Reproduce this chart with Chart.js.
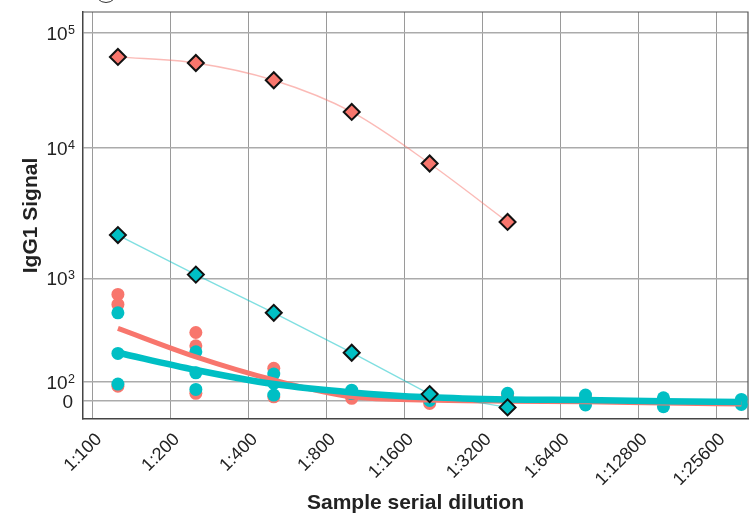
<!DOCTYPE html>
<html>
<head>
<meta charset="utf-8">
<script src="https://cdn.jsdelivr.net/npm/chart.js@4.4.1/dist/chart.umd.min.js"></script>
<style>
  html, body { margin: 0; padding: 0; background: #fff; }
  canvas { display: block; }
</style>
</head>
<body>
<canvas id="chart" width="749" height="519"></canvas>
<script>
// dilution steps (one grid line each); samples sit a bit to the right of each line
const dilutions = ['1:100', '1:200', '1:400', '1:800', '1:1600', '1:3200', '1:6400', '1:12800', '1:25600'];
const sampleOffset = 0.32;

const yTicks = [0, 100, 1000, 10000, 100000];
const yTickExp = [null, '2', '3', '4', '5'];

// reference diamonds
const redDiamonds = [61500, 54500, 38600, 20500, 7600, 2710];
const tealDiamonds = [2150, 1070, 465, 191, 35, -35];

// replicate dots, one list per dilution
const redReps = [
  [700, 561, 77],
  [300, 223, 39],
  [135, 21],
  [48, 13],
  [-14, 5],
  [30, 20],
  [13, 5],
  [7, 0],
  [-5, 0]
];
const tealReps = [
  [465, 188, 88],
  [195, 122, 60],
  [119, 92, 30],
  [56, 38],
  [2],
  [39],
  [30, -22],
  [16, -31],
  [7, -19]
];

// fitted curves
const redFit = [328, 174, 104, 21, 4, -2, -5, -12, -17];
const tealFit = [191, 130, 88, 44, 18, 7, 4, -2, -7];

const RED = '#F8766D';
const TEAL = '#00BFC4';
const FONT = '"Liberation Sans", Arial, sans-serif';

// y axis: linear 0..100, then log decades of uneven length
const axisStops = [0, 100, 1000, 10000, 100000];
const axisSpans = [19, 103.4, 130.6, 115.4];

function axisPos(v) {
  if (v <= axisStops[1]) return v / axisStops[1] * axisSpans[0];
  let p = axisSpans[0];
  for (let i = 1; i < axisStops.length - 1; i++) {
    if (v <= axisStops[i + 1]) return p + Math.log10(v / axisStops[i]) * axisSpans[i];
    p += axisSpans[i];
  }
  const last = axisStops.length - 1;
  return p + Math.log10(v / axisStops[last]) * axisSpans[last - 1];
}

function axisValue(p) {
  if (p <= axisSpans[0]) return p / axisSpans[0] * axisStops[1];
  let acc = axisSpans[0];
  for (let i = 1; i < axisSpans.length; i++) {
    if (p <= acc + axisSpans[i] || i === axisSpans.length - 1) {
      return axisStops[i] * Math.pow(10, (p - acc) / axisSpans[i]);
    }
    acc += axisSpans[i];
  }
}

class BrokenLogScale extends Chart.LinearScale {
  getPixelForValue(value) {
    if (value === null || value === undefined || isNaN(value)) return NaN;
    const lo = axisPos(this.min), hi = axisPos(this.max);
    return this.getPixelForDecimal((axisPos(value) - lo) / (hi - lo));
  }
  getValueForPixel(pixel) {
    const lo = axisPos(this.min), hi = axisPos(this.max);
    return axisValue(lo + this.getDecimalForPixel(pixel) * (hi - lo));
  }
}
BrokenLogScale.id = 'brokenLog';
BrokenLogScale.defaults = Chart.LinearScale.defaults;
Chart.register(BrokenLogScale);

const at = (vals) => vals.map((y, i) => ({ x: i + sampleOffset, y }));
const repPoints = (reps) => reps.flatMap((vals, i) => vals.map(y => ({ x: i + sampleOffset, y })));

const noPad = (s) => { s.paddingTop = 0; s.paddingBottom = 0; s.paddingLeft = 0; s.paddingRight = 0; };

// plot runs to the right edge: chart.js keeps a few px for the rotated last label, take them back
const fullWidthPlugin = {
  id: 'fullWidth',
  afterLayout(chart) {
    const a = chart.chartArea;
    const x = chart.scales.x;
    const right = chart.width - 1;
    if (a.right === right) return;
    a.right = right;
    a.width = right - a.left;
    x.right = right;
    x.width = right - x.left;
    x.configure();
  }
};

// frame on top/right, y labels with raised exponents, and the cut-off circle above the plot
const framePlugin = {
  id: 'frame',
  beforeDatasetsDraw(chart) {
    const { ctx, chartArea: a } = chart;
    ctx.save();
    ctx.strokeStyle = '#555';
    ctx.lineWidth = 1.2;
    ctx.beginPath();
    ctx.moveTo(a.left, a.top);
    ctx.lineTo(a.right, a.top);
    ctx.lineTo(a.right, a.bottom);
    ctx.stroke();
    ctx.restore();
  },
  afterDraw(chart) {
    const ctx = chart.ctx;
    const y = chart.scales.y;
    const right = y.right - 8;
    ctx.save();
    ctx.fillStyle = '#222';
    ctx.textAlign = 'right';
    ctx.textBaseline = 'alphabetic';
    yTicks.forEach((v, i) => {
      const py = y.getPixelForValue(v);
      const exp = yTickExp[i];
      if (exp === null) {
        ctx.font = `19px ${FONT}`;
        ctx.fillText('0', right - 2, py + 7);
        return;
      }
      ctx.font = `12.5px ${FONT}`;
      const ew = ctx.measureText(exp).width;
      ctx.fillText(exp, right, py + 1);
      ctx.font = `19px ${FONT}`;
      ctx.fillText('10', right - ew - 0.5, py + 7);
    });

    ctx.strokeStyle = '#333';
    ctx.lineWidth = 1;
    ctx.beginPath();
    ctx.arc(106, -8.5, 11, 0, Math.PI);
    ctx.stroke();
    ctx.restore();
  }
};

new Chart(document.getElementById('chart'), {
  type: 'line',
  data: {
    datasets: [
      {
        data: repPoints(redReps), showLine: false, order: 7,
        pointRadius: 6.5, pointHoverRadius: 6.5, pointBorderWidth: 0,
        pointBackgroundColor: RED, borderColor: RED
      },
      {
        data: repPoints(tealReps), showLine: false, order: 6,
        pointRadius: 6.5, pointHoverRadius: 6.5, pointBorderWidth: 0,
        pointBackgroundColor: TEAL, borderColor: TEAL
      },
      {
        data: at(redFit), order: 5, borderColor: RED, borderWidth: 5,
        pointRadius: 0, cubicInterpolationMode: 'monotone'
      },
      {
        data: at(tealFit), order: 4, borderColor: TEAL, borderWidth: 6.5,
        pointRadius: 0, cubicInterpolationMode: 'monotone'
      },
      {
        data: at(redDiamonds), order: 1, borderColor: 'rgba(248,118,109,0.5)', borderWidth: 1.4,
        cubicInterpolationMode: 'monotone',
        pointStyle: 'rectRot', pointRadius: 8, pointHoverRadius: 8,
        pointBackgroundColor: RED, pointBorderColor: '#111', pointBorderWidth: 2
      },
      {
        data: at(tealDiamonds), order: 0, borderColor: 'rgba(0,191,196,0.5)', borderWidth: 1.4,
        pointStyle: 'rectRot', pointRadius: 8, pointHoverRadius: 8,
        pointBackgroundColor: TEAL, pointBorderColor: '#111', pointBorderWidth: 2
      }
    ]
  },
  options: {
    responsive: false,
    animation: false,
    devicePixelRatio: 1,
    layout: { padding: { top: 12, right: 1, left: 0, bottom: 0 } },
    plugins: {
      legend: { display: false },
      tooltip: { enabled: false }
    },
    scales: {
      x: {
        type: 'linear',
        min: -0.128,
        max: 8.405,
        afterBuildTicks: (s) => { s.ticks = dilutions.map((_, i) => ({ value: i })); },
        afterFit: (s) => { s.height = 100; noPad(s); },
        ticks: {
          callback: (v, i) => dilutions[i],
          minRotation: 45,
          maxRotation: 45,
          padding: 10,
          labelOffset: 6,
          color: '#222',
          font: { family: FONT, size: 18 }
        },
        grid: { color: '#9a9a9a', lineWidth: 1, drawTicks: false },
        border: { color: '#444', width: 1.5 },
        title: {
          display: true,
          text: 'Sample serial dilution',
          color: '#222',
          font: { family: FONT, size: 21, weight: 'bold' },
          padding: { top: 0, bottom: 3 }
        }
      },
      y: {
        type: 'brokenLog',
        min: -96,
        max: 150800,
        bounds: 'data',
        afterBuildTicks: (s) => { s.ticks = yTicks.map(v => ({ value: v })); },
        afterFit: (s) => { s.width = 83; noPad(s); },
        ticks: { display: false },
        grid: { color: '#ababab', lineWidth: 1.5, drawTicks: false },
        border: { color: '#444', width: 1.5 },
        title: {
          display: true,
          text: 'IgG1 Signal',
          color: '#222',
          font: { family: FONT, size: 21, weight: 'bold' },
          padding: { top: 19, bottom: 0 }
        }
      }
    }
  },
  plugins: [fullWidthPlugin, framePlugin]
});
</script>
</body>
</html>
